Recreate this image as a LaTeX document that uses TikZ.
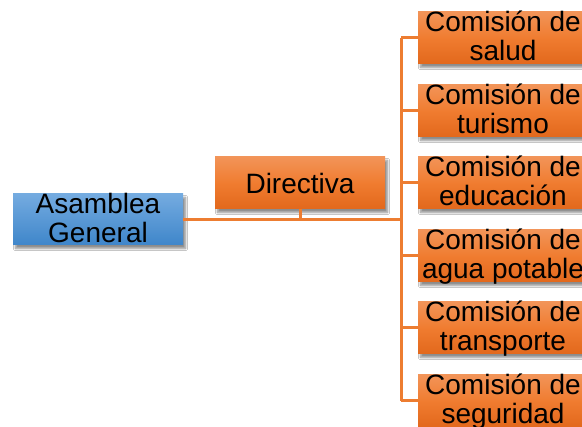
\documentclass[tikz,border=0pt]{standalone}
\usepackage{fontspec}
\setmainfont{Liberation Sans}
\usetikzlibrary{shadows.blur}
\definecolor{linkc}{HTML}{ED7D31}
\definecolor{ortop}{HTML}{F29458}
\definecolor{ormid}{HTML}{F07C30}
\definecolor{orbot}{HTML}{E2681C}
\definecolor{bltop}{HTML}{74ABE0}
\definecolor{blbot}{HTML}{3F86CA}
\begin{document}
\begin{tikzpicture}[x=1pt,y=-1pt,
  box/.style={rectangle, inner sep=0pt, minimum width=170pt, minimum height=52pt,
    blur shadow={shadow xshift=2.5pt, shadow yshift=-3.5pt, shadow blur steps=6, shadow opacity=45}},
  orbox/.style={box, top color=ortop, bottom color=orbot, middle color=ormid},
  blbox/.style={box, top color=bltop, bottom color=blbot},
  txt/.style={inner sep=0pt, align=center, font=\fontsize{28}{29}\selectfont, anchor=north},
  link/.style={draw=linkc, line width=3pt}]
\clip (0,0) rectangle (582,427);
\fill[white] (0,0) rectangle (582,427);
% boxes
\node[blbox, minimum height=51pt] (asam) at (98,219.5) {};
\node[txt] (asamt) at ([yshift=1pt]asam.north) {Asamblea\\General};
\node[orbox, font=\fontsize{28}{29}\selectfont] (dir) at (300,183) {Directiva};
\foreach \i/\y/\t in {1/38/salud, 2/111/turismo, 3/183/educación, 4/256/agua potable, 5/328/transporte, 6/401/seguridad}{
  \node[orbox, minimum width=170pt] (c\i) at (503,\y) {};
  \node[txt] (c\i t) at ([yshift=1pt]c\i.north) {Comisión de\\\t};
}
% connectors
\coordinate (trunk) at (401,219);
\draw[link] (asam.east) -- (asam.east -| trunk);
\draw[link] (dir.south) -- (dir.south |- trunk);
\draw[link] (c1.west -| trunk) -- (c6.west -| trunk);
\foreach \i in {1,...,6}{
  \draw[link] (c\i.west -| trunk) -- (c\i.west);
}
% redraw boxes on top of connectors is not needed
\end{tikzpicture}
\end{document}
